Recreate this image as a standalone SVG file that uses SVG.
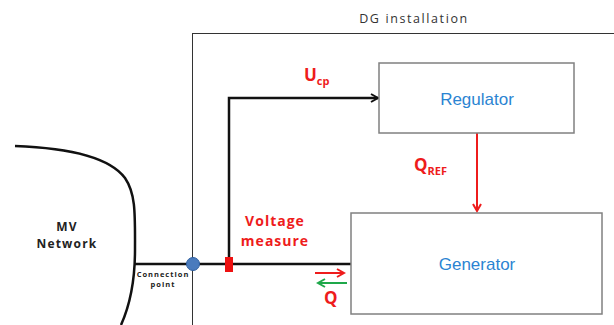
<svg xmlns="http://www.w3.org/2000/svg" width="614" height="325" viewBox="0 0 614 325">
<defs>
<style>
.box{fill:#fff;stroke:#808080;stroke-width:1.5}
.blue{font-family:"Liberation Sans",Arial,sans-serif;font-size:17px;fill:#2b84d2;text-anchor:middle}
.red{font-family:"Open Sans","DejaVu Sans",sans-serif;font-weight:bold;fill:#ee1c1c}
.dark{font-family:"Open Sans","DejaVu Sans",sans-serif;font-weight:bold;fill:#222;text-anchor:middle}
.wire{fill:none;stroke:#111;stroke-width:2.5}
</style>
<marker id="ab" markerWidth="10" markerHeight="10" refX="8" refY="5" orient="auto" markerUnits="userSpaceOnUse"><path d="M1,1 L8,5 L1,9" fill="none" stroke="#111" stroke-width="2"/></marker>
<marker id="ar" markerWidth="10" markerHeight="10" refX="8" refY="5" orient="auto" markerUnits="userSpaceOnUse"><path d="M1,1 L8,5 L1,9" fill="none" stroke="#ee1c1c" stroke-width="2"/></marker>
<marker id="ag" markerWidth="10" markerHeight="10" refX="8" refY="5" orient="auto" markerUnits="userSpaceOnUse"><path d="M1,1 L8,5 L1,9" fill="none" stroke="#1ea84a" stroke-width="2"/></marker>
</defs>
<rect width="614" height="325" fill="#fff"/>
<g id="dg-installation">
<rect x="192.5" y="33.5" width="440" height="320" fill="none" stroke="#333" stroke-width="1"/>
<text x="414" y="23" font-family="'Open Sans','DejaVu Sans',sans-serif" font-size="12.5" fill="#333" text-anchor="middle" letter-spacing="1.6">DG installation</text>
</g>
<g id="mv-network">
<path d="M15,146 C70,148 110,158 125,178 C136,194 135,215 135,250 C135,280 130,305 121,325" fill="none" stroke="#111" stroke-width="2.5"/>
<text class="dark" x="67" y="231" font-size="12" letter-spacing="1.2">MV</text>
<text class="dark" x="67" y="248" font-size="12" letter-spacing="1.2">Network</text>
</g>
<g id="connectors">
<path class="wire" d="M135,264 H351"/>
<path class="wire" d="M229,262 V98 H378" marker-end="url(#ab)"/>
<path d="M477,133 V211" fill="none" stroke="#ee1c1c" stroke-width="2" marker-end="url(#ar)"/>
<path d="M315,273 H344" fill="none" stroke="#ee1c1c" stroke-width="2" marker-end="url(#ar)"/>
<path d="M347,283 H318" fill="none" stroke="#1ea84a" stroke-width="2" marker-end="url(#ag)"/>
</g>
<g id="connection-point">
<circle cx="193" cy="264" r="6.5" fill="#4a7bbd" stroke="#2f5f9e" stroke-width="1"/>
<text class="dark" x="163" y="277" font-size="7.5" letter-spacing="1">Connection</text>
<text class="dark" x="163" y="287" font-size="7.5" letter-spacing="1">point</text>
</g>
<g id="voltage-measure">
<rect x="225" y="257" width="8" height="15" fill="#ee1111"/>
<text class="red" x="275" y="226" font-size="14" text-anchor="middle" letter-spacing="1">Voltage</text>
<text class="red" x="275" y="246" font-size="14" text-anchor="middle" letter-spacing="1">measure</text>
</g>
<g id="regulator">
<rect class="box" x="379" y="63" width="195" height="70"/>
<text class="blue" x="477" y="105">Regulator</text>
</g>
<g id="generator">
<rect class="box" x="351" y="213" width="251" height="101"/>
<text class="blue" x="477" y="270">Generator</text>
</g>
<g id="labels">
<text class="red" x="304" y="81" font-size="17">U<tspan font-size="11" dy="4">cp</tspan></text>
<text class="red" x="414" y="171" font-size="17">Q<tspan font-size="11" dy="4">REF</tspan></text>
<text class="red" x="324" y="304" font-size="17">Q</text>
</g>
</svg>
